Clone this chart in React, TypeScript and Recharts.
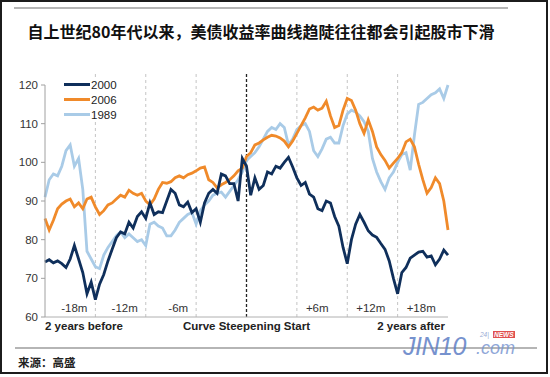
import React from 'react';
import { LineChart, Line, XAxis, YAxis, ReferenceLine } from 'recharts';

// index performance around the start of a curve steepening (half-month steps, -24m .. +24m)
const S1989 = [
  91, 95.5, 97, 96.5, 99, 103, 104.5, 99, 101, 93,
  77, 75, 73, 72.5, 76, 78, 79.5, 81, 82, 80.5,
  81.5, 80.5, 79.5, 80, 78.5, 84, 84.5, 83.5, 83, 81,
  81, 82.5, 84.5, 85.5, 86.5, 87, 84, 87.5, 89, 90,
  91.5, 92, 92.3, 91, 92.5, 94, 95.5, 97.5, 100.5, 101.5,
  102.5, 104, 106, 108, 109, 108.5, 110, 109, 104.5, 106,
  108.5, 109.5, 110, 108, 103, 101.5, 103.5, 106, 106.5, 105,
  105, 109.5, 112.5, 113.5, 113, 112, 110.5, 108, 101, 97.5,
  95, 93, 96, 97.5, 100, 102, 102.5, 98, 107, 115,
  115.5, 116.5, 117.5, 118, 119, 116.5, 120,
];

const S2006 = [
  85.5, 82.5, 85, 88, 89.2, 90, 90.5, 88.5, 89.5, 88,
  90.5, 91, 88.5, 86.5, 87.5, 89, 89.5, 90.5, 91.5, 91,
  92.8, 92, 91.5, 92, 90, 89, 90.5, 93, 94.8, 94.6,
  95, 96, 96.5, 96, 96.8, 97.2, 97.8, 98.5, 98.8, 95.5,
  94.8, 93.4, 94.2, 94.8, 95.5, 96.5, 97.8, 98.5, 101.5, 102.5,
  104.5, 105, 105.8, 106.5, 107, 106.8, 106.3, 105.5, 104, 105.5,
  107.5, 109.5, 111.5, 113.8, 114.3, 113.5, 114, 115.8, 112, 109,
  109.5, 113.5, 116.5, 116, 113.5, 110, 107.5, 111, 108, 104,
  102, 100.5, 98.5, 99.8, 101, 102.5, 105.3, 106, 104, 99.5,
  95.5, 92, 93.5, 96, 94.5, 90, 82.5,
];

const S2000 = [
  74.2, 74.8, 74, 74.5, 73.8, 72.8, 75, 78.5, 75, 71.5,
  66, 69, 64.5, 68.5, 71, 74.5, 77.5, 80.5, 82, 81.5,
  84.5, 83, 86, 87.2, 85.5, 89.5, 86.5, 87.2, 87, 90,
  93, 92, 89, 88.5, 89.7, 87, 88, 84.5, 89.5, 92,
  93, 92, 97, 96.5, 94.5, 94.5, 90, 101, 99, 91.5,
  96, 93, 94, 97.5, 97, 99, 98.5, 100, 101.3, 98.8,
  96, 94, 94.8, 91.8, 91, 88, 87.5, 90, 89.5, 86,
  83.5, 78, 73.8, 80, 84, 86.5, 84.5, 82.3, 81.2, 80.6,
  79, 77.5, 74.5, 70, 66, 71.5, 72.8, 75.2, 76, 76.8,
  77, 75.5, 75.8, 73.5, 75, 77.3, 76,
];

const MONTHS = S2000.map((_, i) => -24 + i / 2);
const data = MONTHS.map((m, i) => ({ m, y2000: S2000[i], y2006: S2006[i], y1989: S1989[i] }));

const Y_TICKS = [60, 70, 80, 90, 100, 110, 120];
const X_TICKS = [-24, 0, 24];
const X_TICK_LABELS: Record<string, string> = {
  '-24': '2 years before',
  '0': 'Curve Steepening Start',
  '24': '2 years after',
};
const MARKERS = [
  { m: -18, text: '-18m' },
  { m: -12, text: '-12m' },
  { m: -6, text: '-6m' },
  { m: 6, text: '+6m' },
  { m: 12, text: '+12m' },
  { m: 18, text: '+18m' },
];

const SERIES = [
  { key: 'y2000', name: '2000', color: '#0f2f5b' },
  { key: 'y2006', name: '2006', color: '#f08a2a' },
  { key: 'y1989', name: '1989', color: '#a9cbe7' },
];

const SANS = '"Liberation Sans", Arial, sans-serif';
const CJK = '"Noto Sans CJK SC", sans-serif';

const EdgeTick = (props: any) => {
  const { x, y, payload } = props;
  const v = payload.value;
  const anchor = v < 0 ? 'start' : v > 0 ? 'end' : 'middle';
  return (
    <text x={x + (v > 0 ? -3 : 0)} y={y} dy="0.71em" textAnchor={anchor} fontSize={11.5}
      fontWeight={700} fill="#222" fontFamily={SANS}>
      {X_TICK_LABELS[String(v)]}
    </text>
  );
};

const MonthLabel = (props: any) => {
  const { viewBox, text, m } = props;
  const left = m < 0;
  return (
    <text x={viewBox.x + (left ? -8 : 9)} y={viewBox.y + viewBox.height - 5}
      textAnchor={left ? 'end' : 'start'} fontSize={11.5} fill="#333" fontFamily={SANS}>
      {text}
    </text>
  );
};

const LegendBox = () => (
  <div style={{ position: 'absolute', left: 64, top: 77, width: 58, background: '#fff', fontFamily: SANS, fontSize: 11.5, color: '#222' }}>
    {SERIES.map((s) => (
      <div key={s.key} style={{ display: 'flex', alignItems: 'center', height: 15 }}>
        <span style={{ width: 26, height: 3, background: s.color, display: 'inline-block' }} />
        <span style={{ marginLeft: 1 }}>{s.name}</span>
      </div>
    ))}
  </div>
);

export default function App() {
  return (
    <div style={{ position: 'absolute', left: 0, top: 0, width: 550, height: 377, background: '#fff', overflow: 'hidden' }}>
      <div style={{ position: 'absolute', left: 0, top: 0, width: 548, height: 374, border: '2px solid #1c1c1c', boxSizing: 'border-box' }} />
      <div style={{ position: 'absolute', left: 14, top: 7, width: 494, height: 1.5, background: '#b5b5b5' }} />
      <div style={{ position: 'absolute', left: 14, top: 19, width: 494, textAlign: 'center', fontFamily: CJK, fontWeight: 700, fontSize: 16, color: '#111', whiteSpace: 'nowrap' }}>
        自上世纪80年代以来，美债收益率曲线趋陡往往都会引起股市下滑
      </div>

      <div style={{ position: 'absolute', left: 0, top: 0 }}>
        <LineChart width={550} height={377} data={data} margin={{ top: 85, right: 102, bottom: 40, left: 10 }}>
          <XAxis dataKey="m" type="number" domain={[-24, 24]} ticks={X_TICKS} tick={<EdgeTick />}
            tickLine={false} tickSize={3} tickMargin={2} height={20} stroke="#b0b0b0" interval={0} />
          <YAxis type="number" domain={[60, 120]} ticks={Y_TICKS} width={35} tickSize={4} tickMargin={3}
            stroke="#a0a0a0" tick={{ fontSize: 11.5, fill: '#333', fontFamily: SANS }} interval={0} />
          {MARKERS.map((mk) => (
            <ReferenceLine key={mk.text} segment={[{ x: mk.m, y: 60 }, { x: mk.m, y: 123 }]} ifOverflow="visible"
              stroke="#c4c4c4" strokeDasharray="3 3" strokeWidth={1}
              label={(p: any) => <MonthLabel {...p} text={mk.text} m={mk.m} />} />
          ))}
          <ReferenceLine segment={[{ x: 0, y: 60 }, { x: 0, y: 123 }]} ifOverflow="visible"
            stroke="#222" strokeDasharray="3 2" strokeWidth={1.3} />
          {[...SERIES].reverse().map((s) => (
            <Line key={s.key} dataKey={s.key} name={s.name} stroke={s.color} strokeWidth={2.8}
              dot={false} type="linear" isAnimationActive={false} />
          ))}
        </LineChart>
      </div>
      <LegendBox />

      <div style={{ position: 'absolute', left: 15, top: 347, width: 522, height: 1.5, background: '#b5b5b5' }} />
      <div style={{ position: 'absolute', left: 18, top: 354, fontFamily: CJK, fontWeight: 700, fontSize: 11.5, color: '#222' }}>
        来源：高盛
      </div>
      <div style={{ position: 'absolute', left: 403, top: 337, lineHeight: '18px', fontFamily: SANS, fontStyle: 'italic', fontSize: 25, color: '#5f80c6', opacity: 0.85, letterSpacing: -0.5 }}>
        JIN10
      </div>
      <div style={{ position: 'absolute', left: 476, top: 340, lineHeight: '16px', fontFamily: SANS, fontStyle: 'italic', fontSize: 18, color: '#7c98d2', opacity: 0.85 }}>
        .com
      </div>
      <div style={{ position: 'absolute', left: 480, top: 331, lineHeight: '7px', fontFamily: SANS, fontStyle: 'italic', fontSize: 6.5, color: '#9aaad4' }}>
        24|
      </div>
      <div style={{ position: 'absolute', left: 493, top: 331, fontFamily: SANS, fontStyle: 'italic', fontWeight: 700, fontSize: 6.5, color: '#fff', background: '#e05050', padding: '0 1px', lineHeight: '7px' }}>
        NEWS
      </div>
    </div>
  );
}
